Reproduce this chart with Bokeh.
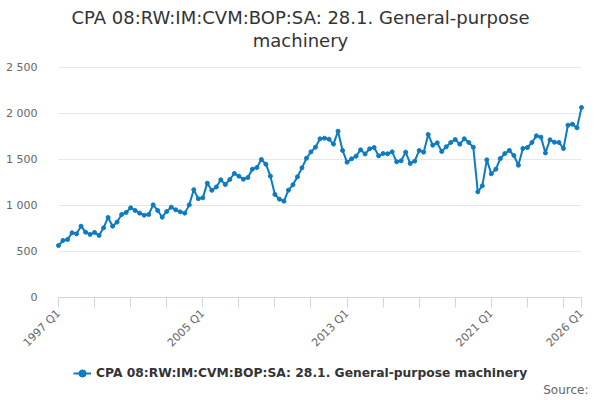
from math import pi
from bokeh.plotting import figure
from bokeh.models import ColumnDataSource, FixedTicker, Range1d, Legend, LegendItem, Title, Label
from bokeh.embed import file_html
from bokeh.resources import INLINE

# quarterly series, 1997 Q1 .. 2026 Q1
quarters = [f"{y} Q{q}" for y in range(1997, 2026) for q in range(1, 5)] + ["2026 Q1"]
values = [
    565, 620, 630, 703,      # 1997
    692, 775, 710, 685,      # 1998
    707, 675, 757, 870,      # 1999
    775, 820, 902, 924,      # 2000
    975, 946, 917, 895,      # 2001
    902, 1007, 946, 873,     # 2002
    935, 982, 953, 931,      # 2003
    917, 1007, 1172, 1074,   # 2004
    1083, 1243, 1165, 1201,  # 2005
    1279, 1228, 1283, 1348,  # 2006
    1319, 1286, 1304, 1395,  # 2007
    1413, 1500, 1449, 1319,  # 2008
    1120, 1069, 1047, 1167,  # 2009
    1225, 1312, 1409, 1514,  # 2010
    1583, 1634, 1725, 1732,  # 2011
    1721, 1667, 1808, 1598,  # 2012
    1471, 1507, 1536, 1605,  # 2013
    1560, 1616, 1630, 1540,  # 2014
    1565, 1562, 1583, 1475,  # 2015
    1486, 1580, 1457, 1482,  # 2016
    1598, 1580, 1772, 1656,  # 2017
    1681, 1587, 1638, 1685,  # 2018
    1717, 1667, 1725, 1685,  # 2019
    1634, 1149, 1214, 1496,  # 2020
    1344, 1395, 1511, 1565,  # 2021
    1598, 1543, 1438, 1620,  # 2022
    1630, 1685, 1757, 1743,  # 2023
    1572, 1714, 1688, 1685,  # 2024
    1620, 1873, 1884, 1844,  # 2025
    2065,                    # 2026
]
labelled_quarters = ["1997 Q1", "2005 Q1", "2013 Q1", "2021 Q1", "2026 Q1"]
y_ticks = [0, 500, 1000, 1500, 2000, 2500]
y_tick_labels = ["0", "500", "1 000", "1 500", "2 000", "2 500"]

series_name = "CPA 08:RW:IM:CVM:BOP:SA: 28.1. General-purpose machinery"
title_line1 = "CPA 08:RW:IM:CVM:BOP:SA: 28.1. General-purpose"
title_line2 = "machinery"
source_text = "Source:"

FONT = "DejaVu Sans"
BLUE = "#0c7bc1"

# The frame fills the canvas below the title; both axes are pinned at value 0
# so the tick labels, legend and source note all stay inside it.
W, H = 600, 400
FRAME_T = 50
PLOT_L, PLOT_R, PLOT_T, ZERO_Y = 58, 581, 67, 297
n_last = len(values) - 1
px_per_q = (PLOT_R - PLOT_L) / n_last
x_lo = -PLOT_L / px_per_q
x_hi = n_last + (W - PLOT_R) / px_per_q
y_max = 2500
px_per_val = (ZERO_Y - PLOT_T) / y_max
y_lo = -(H - ZERO_Y) / px_per_val
y_hi = y_max + (PLOT_T - FRAME_T) / px_per_val

src = ColumnDataSource(dict(x=list(range(len(values))), y=values, q=quarters))

p = figure(width=W, height=H, output_backend="svg", toolbar_location=None,
           x_range=Range1d(x_lo, x_hi), y_range=Range1d(y_lo, y_hi),
           min_border_left=0, min_border_right=0, min_border_top=FRAME_T,
           min_border_bottom=0)
p.outline_line_color = None
p.background_fill_color = "white"

r_line = p.line("x", "y", source=src, line_color=BLUE, line_width=2)
r_pts = p.scatter("x", "y", source=src, size=4, fill_color=BLUE, line_color=BLUE)

# x axis
x_ticks = list(range(0, len(values), 8)) + [n_last]
p.xaxis.fixed_location = 0
p.xaxis.bounds = (0, n_last)
p.xaxis.ticker = FixedTicker(ticks=x_ticks)
p.xaxis.major_label_overrides = {t: (quarters[t] if quarters[t] in labelled_quarters else "") for t in x_ticks}
p.xaxis.major_label_orientation = pi / 4
p.xaxis.axis_line_color = "#ccd6eb"
p.xaxis.major_tick_line_color = "#ccd6eb"
p.xaxis.major_tick_out = 10
p.xaxis.major_tick_in = 0
p.xaxis.minor_tick_line_color = None
p.xaxis.major_label_text_color = "#666666"
p.xaxis.major_label_text_font = FONT
p.xaxis.major_label_text_font_size = "11px"
p.xaxis.major_label_standoff = 4
p.xgrid.grid_line_color = None

# y axis
p.yaxis.fixed_location = 0
p.yaxis.bounds = (0, y_max)
p.yaxis.ticker = FixedTicker(ticks=y_ticks)
p.yaxis.major_label_overrides = dict(zip(y_ticks, y_tick_labels))
p.yaxis.axis_line_color = None
p.yaxis.major_tick_line_color = None
p.yaxis.minor_tick_line_color = None
p.yaxis.major_label_text_color = "#666666"
p.yaxis.major_label_text_font = FONT
p.yaxis.major_label_text_font_size = "11px"
p.yaxis.major_label_standoff = 15
p.ygrid.ticker = FixedTicker(ticks=y_ticks)
p.ygrid.cross_bounds = (0, n_last)
p.ygrid.grid_line_color = "#e6e6e6"

# two centred title lines; the first one added sits next to the plot
for txt in [title_line2, title_line1]:
    p.add_layout(Title(text=txt, align="center", standoff=0, text_font=FONT,
                       text_font_size="18px", text_font_style="normal",
                       text_color="#333333"), "above")

legend = Legend(items=[LegendItem(label=series_name, renderers=[r_line, r_pts])],
                location=(73, 17), orientation="horizontal", border_line_color=None,
                background_fill_alpha=0, label_text_font=FONT, label_text_font_size="12.3px",
                label_text_font_style="bold", label_text_color="#333333",
                glyph_width=18, label_standoff=5, padding=8, margin=0)
p.add_layout(legend)

p.add_layout(Label(x=588, y=11, x_units="screen", y_units="screen", text=source_text,
                   text_align="right", text_baseline="middle", text_font=FONT,
                   text_font_size="12px", text_color="#666666"))

open("out.html", "w").write(file_html(p, INLINE))
